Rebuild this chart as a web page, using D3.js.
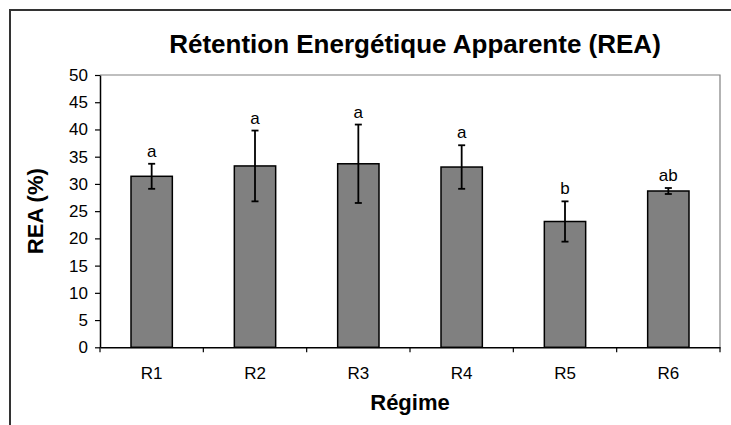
<!DOCTYPE html>
<html lang="fr">
<head>
  <meta charset="UTF-8">
  <title>REA</title>
  <script src="https://d3js.org/d3.v7.min.js"></script>
  <style>
    body { margin: 0; background: #fff; }
    svg { display: block; font-family: Arial, "Liberation Sans", sans-serif; }
  </style>
</head>
<body>
  <script>
    // data
    const regimes = ["R1", "R2", "R3", "R4", "R5", "R6"];
    const rea = [31.4, 33.3, 33.7, 33.1, 23.1, 28.7];
    const errs = [2.3, 6.5, 7.2, 4.0, 3.7, 0.55];
    const letters = ["a", "a", "a", "a", "b", "ab"];
    const yTicks = [0, 5, 10, 15, 20, 25, 30, 35, 40, 45, 50];

    const W = 731, H = 425;
    const plot = { left: 100, top: 75, right: 720, bottom: 347.3 };

    const svg = d3.select("body").append("svg")
        .attr("width", W)
        .attr("height", H);

    // outer chart frame (runs off the right and bottom edge)
    svg.append("rect")
        .attr("x", 10).attr("y", 10)
        .attr("width", 900).attr("height", 600)
        .attr("fill", "none")
        .attr("stroke", "#333")
        .attr("stroke-width", 2);

    const x = d3.scaleBand()
        .domain(regimes)
        .range([plot.left, plot.right])
        .paddingInner(0.6)
        .paddingOuter(0.3);

    const y = d3.scaleLinear()
        .domain([0, 50])
        .range([plot.bottom, plot.top]);

    // plot area border (top + right, gray)
    svg.append("path")
        .attr("d", `M${plot.left},${plot.top}H${plot.right}V${plot.bottom}`)
        .attr("fill", "none")
        .attr("stroke", "#808080")
        .attr("stroke-width", 1.2);

    // bars
    svg.selectAll("rect.bar")
        .data(regimes)
        .enter()
        .append("rect")
        .attr("class", "bar")
        .attr("x", d => x(d))
        .attr("y", (d, i) => y(rea[i]))
        .attr("width", x.bandwidth())
        .attr("height", (d, i) => y(0) - y(rea[i]))
        .attr("fill", "#808080")
        .attr("stroke", "#000")
        .attr("stroke-width", 1.5);

    // error bars
    const eb = svg.selectAll("g.err")
        .data(regimes)
        .enter()
        .append("g")
        .attr("class", "err")
        .attr("stroke", "#000")
        .attr("stroke-width", 1.8);

    const cx = d => x(d) + x.bandwidth() / 2;
    eb.append("line")
        .attr("x1", cx).attr("x2", cx)
        .attr("y1", (d, i) => y(rea[i] + errs[i]))
        .attr("y2", (d, i) => y(rea[i] - errs[i]));
    eb.append("line")
        .attr("x1", d => cx(d) - 3.5).attr("x2", d => cx(d) + 3.5)
        .attr("y1", (d, i) => y(rea[i] + errs[i]))
        .attr("y2", (d, i) => y(rea[i] + errs[i]));
    eb.append("line")
        .attr("x1", d => cx(d) - 3.5).attr("x2", d => cx(d) + 3.5)
        .attr("y1", (d, i) => y(rea[i] - errs[i]))
        .attr("y2", (d, i) => y(rea[i] - errs[i]));

    // significance letters
    svg.selectAll("text.letter")
        .data(regimes)
        .enter()
        .append("text")
        .attr("class", "letter")
        .attr("x", cx)
        .attr("y", (d, i) => y(rea[i] + errs[i]) - 7)
        .attr("text-anchor", "middle")
        .attr("font-size", 17)
        .text((d, i) => letters[i]);

    // y axis
    const yAxis = svg.append("g")
        .attr("transform", `translate(${plot.left},0)`)
        .call(d3.axisLeft(y).tickValues(yTicks).tickSize(5).tickPadding(7).tickSizeOuter(0));
    yAxis.select(".domain").attr("stroke", "#000").attr("stroke-width", 1.5);
    yAxis.selectAll(".tick line").attr("stroke", "#000").attr("stroke-width", 1.2);
    yAxis.selectAll(".tick text")
        .attr("font-size", 17)
        .attr("font-family", "Arial, 'Liberation Sans', sans-serif")
        .attr("fill", "#000");

    // x axis: labels at band centres, ticks at band boundaries
    const xAxis = svg.append("g")
        .attr("transform", `translate(0,${plot.bottom})`)
        .call(d3.axisBottom(x).tickSize(0).tickPadding(20).tickSizeOuter(0));
    xAxis.select(".domain").attr("stroke", "#000").attr("stroke-width", 1.5);
    xAxis.selectAll(".tick text")
        .attr("font-size", 17)
        .attr("font-family", "Arial, 'Liberation Sans', sans-serif")
        .attr("fill", "#000");

    const gap = (x.step() - x.bandwidth()) / 2;
    const bounds = regimes.map(d => x(d) - gap).concat([plot.right]);
    xAxis.selectAll("line.bound")
        .data(bounds)
        .enter()
        .append("line")
        .attr("class", "bound")
        .attr("x1", d => d).attr("x2", d => d)
        .attr("y1", 0).attr("y2", 5)
        .attr("stroke", "#000")
        .attr("stroke-width", 1.2);

    // titles
    svg.append("text")
        .attr("x", 415)
        .attr("y", 53)
        .attr("text-anchor", "middle")
        .attr("font-size", 26)
        .attr("font-weight", "bold")
        .text("Rétention Energétique Apparente (REA)");

    svg.append("text")
        .attr("x", 410)
        .attr("y", 410)
        .attr("text-anchor", "middle")
        .attr("font-size", 22)
        .attr("font-weight", "bold")
        .text("Régime");

    svg.append("text")
        .attr("transform", `translate(43,${(plot.top + plot.bottom) / 2}) rotate(-90)`)
        .attr("text-anchor", "middle")
        .attr("font-size", 22)
        .attr("font-weight", "bold")
        .text("REA (%)");
  </script>
</body>
</html>
